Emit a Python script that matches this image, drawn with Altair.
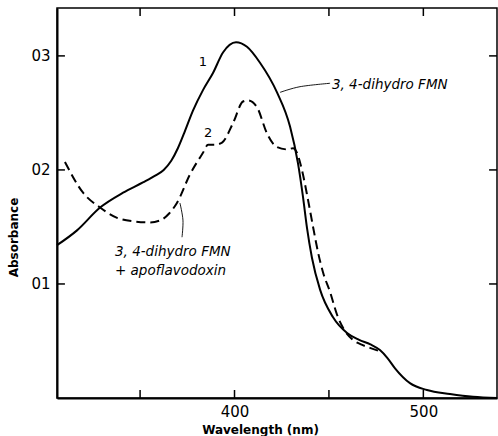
import altair as alt
import pandas as pd

# ---- data ----
solid_nm = [306.0, 316.6, 328.8, 341.0, 351.5, 358.0, 362.5, 366.5, 370.0, 373.5, 378.0,
            383.3, 388.6, 393.9, 400.8, 406.6, 413.5, 422.5, 429.4, 433.6, 436.3, 438.4,
            441.0, 445.3, 452.1, 459.6, 466.0, 472.0, 477.0, 481.0, 485.0, 492.9, 501.9,
            514.1, 526.3, 539.0]
solid_abs = [0.134, 0.147, 0.167, 0.180, 0.189, 0.195, 0.200, 0.208, 0.219, 0.233, 0.252,
             0.270, 0.285, 0.303, 0.312, 0.308, 0.294, 0.268, 0.238, 0.206, 0.176, 0.149,
             0.123, 0.095, 0.071, 0.057, 0.051, 0.047, 0.042, 0.035, 0.026, 0.013, 0.007,
             0.0035, 0.001, 0.0]

dashed_nm = [310.2, 319.8, 328.8, 337.8, 346.0, 355.2, 361.0, 365.5, 369.5, 376.4, 383.3,
             386.0, 389.5, 393.4, 399.2, 404.5, 407.1, 411.9, 417.2, 422.5, 427.8, 431.0,
             433.1, 435.7, 438.9, 441.6, 444.2, 446.9, 450.6, 454.3, 458.0, 462.7, 467.0,
             471.7, 477.0]
dashed_abs = [0.207, 0.180, 0.167, 0.158, 0.155, 0.154, 0.156, 0.162, 0.171, 0.196, 0.215,
              0.222, 0.222, 0.224, 0.241, 0.260, 0.261, 0.255, 0.232, 0.220, 0.218, 0.219,
              0.215, 0.200, 0.174, 0.150, 0.128, 0.110, 0.093, 0.073, 0.060, 0.051, 0.047,
              0.044, 0.041]

leader1_nm = [424.1, 434.7, 450.6]
leader1_abs = [0.268, 0.273, 0.276]
leader2_nm = [371.1, 372.7, 372.2]
leader2_abs = [0.171, 0.156, 0.141]

label_text = ["1", "2"]
label_nm = [383.3, 386.0]
label_abs = [0.295, 0.232]

note_text = ["3, 4-dihydro FMN", "3, 4-dihydro FMN", "+ apoflavodoxin"]
note_nm = [451.6, 336.7, 336.7]
note_abs = [0.2746, 0.128, 0.111]

x_ticks = [350, 400, 450, 500]
x_labels = [400, 500]
y_ticks = [0.1, 0.2, 0.3]

X_DOMAIN = [306, 539]
Y_DOMAIN = [0, 0.342]
TICK_X = 4.2      # inward tick length in nm (about 8 px)
TICK_Y = 0.007    # inward tick length in absorbance (about 8 px)

solid = pd.DataFrame({"nm": solid_nm, "abs": solid_abs})
dashed = pd.DataFrame({"nm": dashed_nm, "abs": dashed_abs})
leaders = pd.DataFrame({
    "nm": leader1_nm + leader2_nm,
    "abs": leader1_abs + leader2_abs,
    "grp": ["a"] * 3 + ["b"] * 3,
    "ord": [0, 1, 2, 0, 1, 2],
})
labels = pd.DataFrame({"t": label_text, "nm": label_nm, "abs": label_abs})
notes = pd.DataFrame({"t": note_text, "nm": note_nm, "abs": note_abs})
xt = pd.DataFrame({"nm": x_ticks})
yt = pd.DataFrame({"abs": y_ticks})

FONT = "DejaVu Sans"

xscale = alt.Scale(domain=X_DOMAIN, nice=False, zero=False)
yscale = alt.Scale(domain=Y_DOMAIN, nice=False, zero=False)

x_enc = alt.X("nm:Q", scale=xscale, axis=alt.Axis(
    values=x_labels, ticks=False, grid=False, domain=True, domainColor="black",
    domainWidth=2, labelFont=FONT, labelFontSize=15, labelColor="black",
    labelPadding=6, title="Wavelength   (nm)", titleFont=FONT, titleFontSize=12,
    titleFontWeight="bold", titleColor="black", titleX=203, titleY=31,
    titleBaseline="middle", titleAlign="center", labelFlush=False))
y_enc = alt.Y("abs:Q", scale=yscale, axis=alt.Axis(
    values=y_ticks, ticks=False, grid=False, domain=True, domainColor="black",
    domainWidth=2, labelFont=FONT, labelFontSize=15, labelColor="black",
    labelPadding=7, labelExpr="replace(format(datum.value, '.1f'), '.', '')",
    title="Absorbance", titleFont=FONT, titleFontSize=12, titleFontWeight="bold",
    titleColor="black", titleX=-44, titleY=229, titleAngle=-90,
    titleAlign="center", titleBaseline="middle"))

line_solid = alt.Chart(solid).mark_line(
    color="black", strokeWidth=2, interpolate="monotone").encode(x=x_enc, y=y_enc)

line_dashed = alt.Chart(dashed).mark_line(
    color="black", strokeWidth=2, strokeDash=[9, 5], interpolate="monotone"
).encode(x=alt.X("nm:Q"), y=alt.Y("abs:Q"))

leader_lines = alt.Chart(leaders).mark_line(
    color="black", strokeWidth=0.9, interpolate="cardinal").encode(
    x=alt.X("nm:Q"), y=alt.Y("abs:Q"), detail="grp:N", order="ord:Q")

label_marks = alt.Chart(labels).mark_text(
    font=FONT, fontSize=13, color="black", align="center", baseline="middle").encode(
    x=alt.X("nm:Q"), y=alt.Y("abs:Q"), text="t:N")

note_marks = alt.Chart(notes).mark_text(
    font=FONT, fontSize=13.5, fontStyle="italic", color="black",
    align="left", baseline="middle").encode(
    x=alt.X("nm:Q"), y=alt.Y("abs:Q"), text="t:N")

tick_bottom = alt.Chart(xt).mark_rule(color="black", strokeWidth=1.5).encode(
    x=alt.X("nm:Q"), y=alt.datum(Y_DOMAIN[0]), y2=alt.datum(Y_DOMAIN[0] + TICK_Y))
tick_top = alt.Chart(xt).mark_rule(color="black", strokeWidth=1.5).encode(
    x=alt.X("nm:Q"), y=alt.datum(Y_DOMAIN[1]), y2=alt.datum(Y_DOMAIN[1] - TICK_Y))
tick_left = alt.Chart(yt).mark_rule(color="black", strokeWidth=1.5).encode(
    y=alt.Y("abs:Q"), x=alt.datum(X_DOMAIN[0]), x2=alt.datum(X_DOMAIN[0] + TICK_X))
tick_right = alt.Chart(yt).mark_rule(color="black", strokeWidth=1.5).encode(
    y=alt.Y("abs:Q"), x=alt.datum(X_DOMAIN[1]), x2=alt.datum(X_DOMAIN[1] - TICK_X))

chart = alt.layer(
    line_solid, line_dashed, leader_lines, label_marks, note_marks,
    tick_bottom, tick_top, tick_left, tick_right
).properties(
    width=440, height=390,
    background="white",
    autosize=alt.AutoSizeParams(type="none"),
    padding={"left": 57, "top": 8, "right": 1, "bottom": 38},
).configure_view(
    stroke="black", strokeWidth=1.5
)

chart.save("out.html", embed_options={"renderer": "svg", "actions": False})
